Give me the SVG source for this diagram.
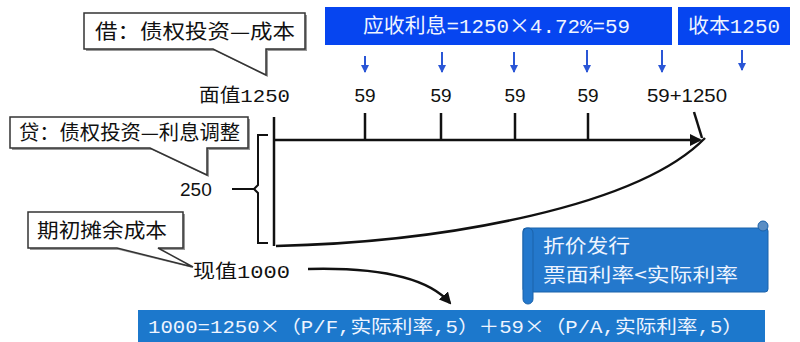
<svg xmlns="http://www.w3.org/2000/svg" width="800" height="342" viewBox="0 0 800 342">
<defs>
<style>
.cjk{font-family:"Noto Sans CJK SC","Liberation Sans",sans-serif}
.num{font-family:"Liberation Sans","Noto Sans CJK SC",sans-serif;font-size:19px;fill:#111}
.mono{font-family:"Liberation Mono","Noto Sans CJK SC",monospace}
.callout{fill:#fff;stroke:#333;stroke-width:1.5}
.shadow{fill:#999}
.ctext{font-family:"Noto Sans CJK SC",sans-serif;font-size:20px;fill:#111}
.tl{stroke:#111;stroke-width:2.5;fill:none}
.barrow{stroke:#2a56d6;stroke-width:2;fill:none}
.wt{fill:#eef4ff}
</style>
<marker id="blueHead" markerWidth="8" markerHeight="8" refX="7" refY="4" orient="auto" markerUnits="userSpaceOnUse">
<path d="M0,0 L8,4 L0,8 Z" fill="#2a56d6"/>
</marker>
<marker id="blackHead" markerWidth="12" markerHeight="12" refX="10" refY="6" orient="auto" markerUnits="userSpaceOnUse">
<path d="M0,0 L12,6 L0,12 Z" fill="#111"/>
</marker>
</defs>

<!-- top blue boxes -->
<g id="interest-box">
<rect x="325" y="7" width="347" height="38" fill="#0645f0"/>
<text x="363" y="33" class="wt" font-size="20" textLength="267" lengthAdjust="spacingAndGlyphs"><tspan class="cjk">应收利息</tspan><tspan class="mono">=1250</tspan><tspan class="cjk">×</tspan><tspan class="mono">4.72%=59</tspan></text>
</g>
<g id="principal-box">
<rect x="678" y="7" width="112" height="38" fill="#0645f0"/>
<text x="688" y="33" class="wt" font-size="20" textLength="92" lengthAdjust="spacingAndGlyphs"><tspan class="cjk">收本</tspan><tspan class="mono">1250</tspan></text>
</g>

<!-- callouts -->
<g id="callout-debit">
<path class="shadow" d="M86,15 H307 V51 H268 V77 L215,51 H86 Z"/>
<path class="callout" d="M84,13 H305 V49 H266 V75 L213,49 H84 Z"/>
<text x="95" y="39" class="ctext" font-size="21" textLength="200" lengthAdjust="spacingAndGlyphs">借：债权投资—成本</text>
</g>
<g id="callout-credit">
<path class="shadow" d="M12,119 H250 V150 H209 V177 L152,150 H12 Z"/>
<path class="callout" d="M10,117 H248 V148 H207 V175 L150,148 H10 Z"/>
<text x="19" y="140" class="ctext" textLength="221" lengthAdjust="spacingAndGlyphs">贷：债权投资—利息调整</text>
</g>
<g id="callout-amortized">
<path class="shadow" d="M30,214 H185 V250 H160 L193,268 L119,250 H30 Z"/>
<path class="callout" d="M28,212 H183 V248 H158 L193,267 L117,248 H28 Z"/>
<text x="37" y="238" class="ctext" font-size="21" textLength="130" lengthAdjust="spacingAndGlyphs">期初摊余成本</text>
</g>

<!-- labels -->
<g id="face-value">
<text x="199" y="102" font-size="19" fill="#111" textLength="91" lengthAdjust="spacingAndGlyphs"><tspan class="cjk">面值</tspan><tspan font-family="Liberation Mono, monospace">1250</tspan></text>
</g>
<g id="labels-59">
<text x="365" y="102" class="num" text-anchor="middle">59</text>
<text x="441" y="102" class="num" text-anchor="middle">59</text>
<text x="515" y="102" class="num" text-anchor="middle">59</text>
<text x="588" y="102" class="num" text-anchor="middle">59</text>
<text x="647" y="102" class="num" textLength="80" lengthAdjust="spacingAndGlyphs">59+1250</text>
</g>
<g id="discount-250">
<text x="180" y="196" class="num">250</text>
</g>
<g id="present-value">
<text x="193" y="278" font-size="19" fill="#111" textLength="97" lengthAdjust="spacingAndGlyphs"><tspan class="cjk">现值</tspan><tspan font-family="Liberation Mono, monospace">1000</tspan></text>
</g>

<!-- scroll note -->
<g id="discount-note">
<rect x="523" y="228" width="245" height="64" rx="3" fill="#2478cc" stroke="#1b62aa" stroke-width="1"/>
<rect x="523" y="228" width="10" height="76" rx="5" fill="#2478cc" stroke="#1b62aa" stroke-width="1"/>
<circle cx="763" cy="226" r="5" fill="#5b8ec4" stroke="#1b62aa" stroke-width="1"/>
<text x="543" y="253" class="cjk wt" font-size="19" textLength="87" lengthAdjust="spacingAndGlyphs">折价发行</text>
<text x="543" y="282" class="cjk wt" font-size="19" textLength="195" lengthAdjust="spacingAndGlyphs">票面利率&lt;实际利率</text>
</g>

<!-- formula box -->
<g id="formula">
<rect x="138" y="310" width="627" height="34" fill="#1c78cc"/>
<text x="148" y="333" class="wt" font-size="18" textLength="595" lengthAdjust="spacingAndGlyphs"><tspan class="mono">1000=1250</tspan><tspan class="cjk">×（</tspan><tspan class="mono">P/F,</tspan><tspan class="cjk">实际利率</tspan><tspan class="mono">,5</tspan><tspan class="cjk">）＋</tspan><tspan class="mono">59</tspan><tspan class="cjk">×（</tspan><tspan class="mono">P/A,</tspan><tspan class="cjk">实际利率</tspan><tspan class="mono">,5</tspan><tspan class="cjk">）</tspan></text>
</g>

<!-- connectors -->
<g id="connectors">
<line class="barrow" x1="365" y1="56" x2="365" y2="72" marker-end="url(#blueHead)"/>
<line class="barrow" x1="442" y1="52" x2="442" y2="72" marker-end="url(#blueHead)"/>
<line class="barrow" x1="514" y1="52" x2="514" y2="72" marker-end="url(#blueHead)"/>
<line class="barrow" x1="587" y1="50" x2="587" y2="72" marker-end="url(#blueHead)"/>
<line class="barrow" x1="662" y1="50" x2="662" y2="72" marker-end="url(#blueHead)"/>
<line class="barrow" x1="742" y1="50" x2="742" y2="70" marker-end="url(#blueHead)"/>
<!-- timeline -->
<line class="tl" x1="274" y1="117" x2="274" y2="246"/>
<line class="tl" x1="274" y1="140" x2="700" y2="140" marker-end="url(#blackHead)"/>
<line class="tl" x1="365" y1="113" x2="365" y2="140"/>
<line class="tl" x1="441" y1="113" x2="441" y2="140"/>
<line class="tl" x1="515" y1="113" x2="515" y2="140"/>
<line class="tl" x1="588" y1="113" x2="588" y2="140"/>
<line class="tl" x1="694" y1="112" x2="702" y2="138"/>
<path class="tl" d="M276,246 C450,242 640,205 705,138"/>
<!-- bracket -->
<path d="M268,135 H258 V185 L254,189 L258,193 V243 H268 M254,189 H232" stroke="#111" stroke-width="2" fill="none"/>
<!-- present value arrow -->
<path d="M308,269 C385,267 430,280 450,303" stroke="#111" stroke-width="2.5" fill="none" marker-end="url(#blackHead)"/>
</g>
</svg>
